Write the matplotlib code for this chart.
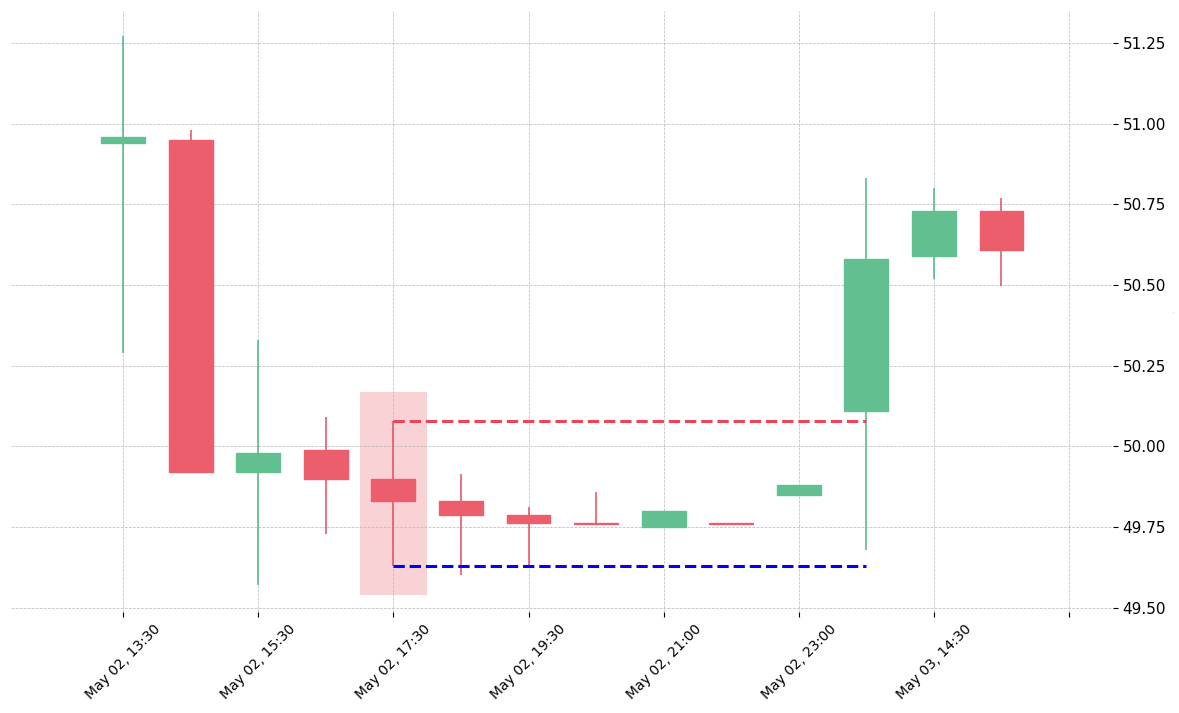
import matplotlib
matplotlib.use("Agg")
import matplotlib.pyplot as plt
import numpy as np

# candle data
dates = ["May 02, 13:30", "May 02, 14:30", "May 02, 15:30", "May 02, 16:30",
         "May 02, 17:30", "May 02, 18:30", "May 02, 19:30", "May 02, 20:00",
         "May 02, 21:00", "May 02, 22:00", "May 02, 23:00", "May 03, 13:30",
         "May 03, 14:30", "May 03, 15:30"]
opens = [50.94, 50.95, 49.92, 49.99, 49.90, 49.83, 49.787, 49.762,
         49.75, 49.762, 49.85, 50.11, 50.59, 50.73]
highs = [51.27, 50.98, 50.33, 50.09, 50.08, 49.915, 49.813, 49.86,
         49.80, 49.762, 49.88, 50.83, 50.80, 50.77]
lows = [50.29, 49.92, 49.57, 49.73, 49.63, 49.60, 49.63, 49.760,
        49.75, 49.760, 49.85, 49.68, 50.52, 50.497]
closes = [50.96, 49.92, 49.98, 49.90, 49.83, 49.787, 49.762, 49.760,
          49.80, 49.760, 49.88, 50.58, 50.73, 50.61]

pattern_idx = 4      # highlighted candle
level_end = 11       # where the support/resistance lines stop

GREEN = "#62bf90"
GREEN_WICK = "#4cb883"
RED = "#ec5e6c"
RED_WICK = "#e84b5b"


def main():
    fig = plt.figure(figsize=(11.79, 7.13), dpi=100)
    ax = fig.add_axes([0.0093, 0.1417, 0.9347, 0.8429])

    x = np.arange(len(dates))
    o = np.array(opens)
    c = np.array(closes)
    up = c >= o
    body_col = np.where(up, GREEN, RED)
    wick_col = np.where(up, GREEN_WICK, RED_WICK)

    ax.grid(True, linestyle="--", color="#bdbdbd", linewidth=0.55, zorder=0)

    ax.vlines(x, lows, highs, colors=wick_col, linewidth=1.1, zorder=2)
    ax.bar(x, np.abs(c - o), bottom=np.minimum(o, c), width=0.65,
           color=body_col, edgecolor=body_col, linewidth=1, zorder=3)

    # highlight box around the pattern candle
    hi, lo = highs[pattern_idx], lows[pattern_idx]
    pad = 0.2 * (hi - lo)
    ax.bar(pattern_idx, hi - lo + 2 * pad, bottom=lo - pad, width=1.0,
           color=RED, alpha=0.28, linewidth=0, zorder=1)

    ax.hlines(hi, pattern_idx, level_end, colors="#ef4458", linestyles="--",
              linewidth=2.2, zorder=4)
    ax.hlines(lo, pattern_idx, level_end, colors="#0000ff", linestyles="--",
              linewidth=2.2, zorder=4)

    ticks = list(range(0, len(dates) + 1, 2))
    labels = [dates[i] if i < len(dates) else "" for i in ticks]
    ax.set_xticks(ticks)
    ax.set_xticklabels(labels, rotation=45, ha="center", fontsize=10)
    ax.set_xlim(-1.66, 14.65)
    ax.set_ylim(49.487, 51.349)
    ax.set_yticks(np.arange(49.5, 51.26, 0.25))
    ax.yaxis.set_major_formatter(plt.FormatStrFormatter("%.2f"))
    ax.yaxis.tick_right()
    ax.tick_params(axis="y", labelsize=11)
    ax.set_ylabel(".", fontsize=3)
    ax.yaxis.set_label_position("right")
    for s in ax.spines.values():
        s.set_visible(False)

    fig.savefig("out.png", dpi=100)


if __name__ == '__main__':
    main()
